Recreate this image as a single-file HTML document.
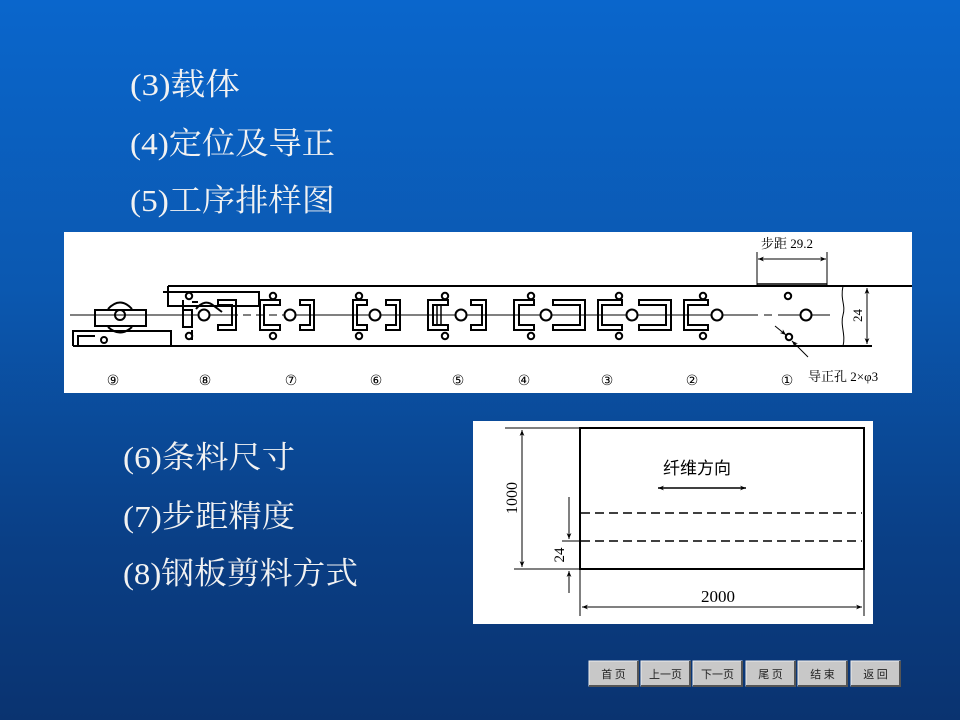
<!DOCTYPE html>
<html><head><meta charset="utf-8"><style>
html,body{margin:0;padding:0;}
body{width:960px;height:720px;overflow:hidden;background:linear-gradient(180deg,#0a66cc 0%,#0b58b0 40%,#0a3f86 75%,#0a3370 100%);}
svg{position:absolute;left:0;top:0}
</style></head><body>
<svg width="960" height="720" viewBox="0 0 960 720" xmlns="http://www.w3.org/2000/svg">
<defs>
<marker id="ar" viewBox="0 0 10 10" refX="10" refY="5" markerWidth="9" markerHeight="6" orient="auto-start-reverse" markerUnits="userSpaceOnUse"><path d="M0,1 L10,5 L0,9 L3,5 Z" fill="#000"/></marker>
</defs>
<g font-family="Liberation Serif, Noto Serif CJK SC, Noto Sans CJK SC, serif" fill="#f2f2f2" font-size="31">
<text x="130" y="95" textLength="110" lengthAdjust="spacingAndGlyphs">(3)载体</text>
<text x="130" y="154" textLength="205" lengthAdjust="spacingAndGlyphs">(4)定位及导正</text>
<text x="130" y="211" textLength="205" lengthAdjust="spacingAndGlyphs">(5)工序排样图</text>
<text x="123" y="468" textLength="172" lengthAdjust="spacingAndGlyphs">(6)条料尺寸</text>
<text x="123" y="527" textLength="172" lengthAdjust="spacingAndGlyphs">(7)步距精度</text>
<text x="123" y="584" textLength="235" lengthAdjust="spacingAndGlyphs">(8)钢板剪料方式</text>
</g>
<!-- strip panel -->
<rect x="64" y="232" width="848" height="161" fill="#fff"/>
<g stroke="#000" stroke-width="2" fill="none">
<line x1="168" y1="286" x2="912" y2="286"/>
<line x1="757" y1="284" x2="827" y2="284" stroke-width="1.5"/>
<line x1="73" y1="346" x2="872" y2="346"/>
<line x1="70" y1="315" x2="230" y2="315" stroke-width="1"/>
<line x1="230" y1="315" x2="290" y2="315" stroke-width="1" stroke-dasharray="8,5"/>
<line x1="290" y1="315" x2="750" y2="315" stroke-width="1"/>
<line x1="750" y1="315" x2="780" y2="315" stroke-width="1" stroke-dasharray="8,6"/>
<line x1="780" y1="315" x2="830" y2="315" stroke-width="1"/>
<!-- left holders -->
<path d="M163,292 H259 V306 H168 V292" />
<path d="M168,286 V292"/>
<rect x="95" y="310" width="51" height="16"/>
<path d="M73,346 V331 H171 V346 M78,346 V336 H95"/>
<rect x="183" y="310" width="9" height="17"/>
<path d="M192,302 H198 M192,330 V340 M183,310 V300"/>
<path d="M108,309 Q120,296 132,309 M108,327 Q120,338 132,327" stroke-width="2"/>
<path d="M196,309 Q205,298 214,306 L222,312"/>
<circle cx="120" cy="315" r="5"/>
<circle cx="104" cy="340" r="3"/>
<!-- break line right -->
<path d="M843,286 C840,300 846,305 843,315 C840,325 846,335 843,346" stroke-width="1"/>
<line x1="843" y1="286" x2="872" y2="286" stroke-width="1"/>
<line x1="843" y1="346" x2="872" y2="346" stroke-width="1"/>
<line x1="867" y1="288" x2="867" y2="344" stroke-width="1" marker-start="url(#ar)" marker-end="url(#ar)"/>
<!-- pitch dim -->
<line x1="757" y1="252" x2="757" y2="286" stroke-width="1"/>
<line x1="827" y1="252" x2="827" y2="286" stroke-width="1"/>
<line x1="758" y1="259" x2="826" y2="259" stroke-width="1" marker-start="url(#ar)" marker-end="url(#ar)"/>
<!-- pilot leader -->
<line x1="775" y1="326" x2="786" y2="335" stroke-width="1" marker-end="url(#ar)"/>
<line x1="808" y1="357" x2="792" y2="341" stroke-width="1" marker-end="url(#ar)"/>
</g>
<g stroke="#000" stroke-width="2" fill="#fff" id="parts">
<!-- center circles -->
<circle cx="204" cy="315" r="5.5"/><circle cx="290" cy="315" r="5.5"/><circle cx="375" cy="315" r="5.5"/><circle cx="461" cy="315" r="5.5"/><circle cx="546" cy="315" r="5.5"/><circle cx="632" cy="315" r="5.5"/><circle cx="717" cy="315" r="5.5"/><circle cx="806" cy="315" r="5.5"/>
<!-- pilots -->
<g fill="#fff">
<circle cx="189" cy="296" r="3.2"/><circle cx="189" cy="336" r="3.2"/>
<circle cx="273" cy="296" r="3.2"/><circle cx="273" cy="336" r="3.2"/>
<circle cx="359" cy="296" r="3.2"/><circle cx="359" cy="336" r="3.2"/>
<circle cx="445" cy="296" r="3.2"/><circle cx="445" cy="336" r="3.2"/>
<circle cx="531" cy="296" r="3.2"/><circle cx="531" cy="336" r="3.2"/>
<circle cx="619" cy="296" r="3.2"/><circle cx="619" cy="336" r="3.2"/>
<circle cx="703" cy="296" r="3.2"/><circle cx="703" cy="336" r="3.2"/>
<circle cx="788" cy="296" r="3.2"/><circle cx="789" cy="337" r="3.2"/>
</g>
</g>
<g stroke="#000" stroke-width="2" fill="none">
<!-- C opening left (right of circles) -->
<path d="M218,300 H236 V330 H218 V325 H232 V305 H218 Z"/>
<path d="M300,300 H314 V330 H300 V325 H310 V305 H300 Z"/>
<path d="M386,300 H400 V330 H386 V325 H396 V305 H386 Z"/>
<path d="M471,300 H486 V330 H471 V325 H482 V305 H471 Z"/>
<path d="M553,300 H585 V330 H553 V325 H580 V305 H553 Z"/>
<path d="M639,300 H671 V330 H639 V325 H666 V305 H639 Z"/>
<!-- C opening right (left of circles) -->
<path d="M280,300 H260 V330 H280 V325 H264 V305 H280 Z"/>
<path d="M367,300 H353 V330 H367 V325 H357 V305 H367 Z"/>
<path d="M448,300 H428 V330 H448 V325 H433 V305 H448 Z"/>
<line x1="437" y1="305" x2="437" y2="325" stroke-width="1.5"/><line x1="441" y1="305" x2="441" y2="325" stroke-width="1.5"/>
<path d="M534,300 H514 V330 H534 V325 H519 V305 H534 Z"/>
<path d="M622,300 H598 V330 H622 V325 H602 V305 H622 Z"/>
<path d="M708,300 H684 V330 H708 V325 H688 V305 H708 Z"/>
</g>
<g font-family="Liberation Serif, DejaVu Sans, serif" font-size="14" fill="#000" text-anchor="middle">
<text x="113" y="385">⑨</text><text x="205" y="385">⑧</text><text x="291" y="385">⑦</text><text x="376" y="385">⑥</text><text x="458" y="385">⑤</text><text x="524" y="385">④</text><text x="607" y="385">③</text><text x="692" y="385">②</text><text x="787" y="385">①</text>
</g>
<g font-family="Liberation Serif, Noto Serif CJK SC, serif" font-size="13" fill="#000">
<text x="761" y="248">步距 29.2</text>
<text x="808" y="381">导正孔 2×φ3</text>
<text x="0" y="0" transform="translate(862,322) rotate(-90)">24</text>
</g>
<!-- sheet panel -->
<rect x="473" y="421" width="400" height="203" fill="#fff"/>
<g stroke="#000" fill="none">
<rect x="580" y="428" width="284" height="141" stroke-width="2"/>
<line x1="581" y1="513" x2="862" y2="513" stroke-width="1.5" stroke-dasharray="9,5"/>
<line x1="581" y1="541" x2="862" y2="541" stroke-width="1.5" stroke-dasharray="9,5"/>
<line x1="505" y1="428" x2="580" y2="428" stroke-width="1"/>
<line x1="514" y1="569" x2="580" y2="569" stroke-width="1"/>
<line x1="562" y1="541" x2="580" y2="541" stroke-width="1"/>
<line x1="522" y1="430" x2="522" y2="567" stroke-width="1" marker-start="url(#ar)" marker-end="url(#ar)"/>
<line x1="569" y1="497" x2="569" y2="539" stroke-width="1" marker-end="url(#ar)"/>
<line x1="569" y1="593" x2="569" y2="571" stroke-width="1" marker-end="url(#ar)"/>
<line x1="580" y1="569" x2="580" y2="616" stroke-width="1"/>
<line x1="864" y1="569" x2="864" y2="616" stroke-width="1"/>
<line x1="582" y1="607" x2="862" y2="607" stroke-width="1" marker-start="url(#ar)" marker-end="url(#ar)"/>
<line x1="658" y1="488" x2="746" y2="488" stroke-width="1.5" marker-start="url(#ar)" marker-end="url(#ar)"/>
</g>
<g font-family="Liberation Serif, Noto Serif CJK SC, serif" fill="#000">
<text x="663" y="474" font-size="17" font-family="Noto Sans CJK SC, sans-serif">纤维方向</text>
<text x="718" y="602" font-size="17" text-anchor="middle">2000</text>
<text x="0" y="0" font-size="16" text-anchor="middle" transform="translate(517,498) rotate(-90)">1000</text>
<text x="0" y="0" font-size="15" text-anchor="middle" transform="translate(564,555) rotate(-90)">24</text>
</g>
<!-- buttons -->
<g font-family="Noto Sans CJK SC, sans-serif" font-size="11" fill="#222" text-anchor="middle">
<g><rect x="589" y="661" width="49" height="25" fill="#c8c8c8" stroke="#eee"/><path d="M589,686 H638 V661" stroke="#555" fill="none" stroke-width="2"/><text x="613.5" y="678">首 页</text></g>
<g><rect x="641" y="661" width="49" height="25" fill="#c8c8c8" stroke="#eee"/><path d="M641,686 H690 V661" stroke="#555" fill="none" stroke-width="2"/><text x="665.5" y="678">上一页</text></g>
<g><rect x="693" y="661" width="49" height="25" fill="#c8c8c8" stroke="#eee"/><path d="M693,686 H742 V661" stroke="#555" fill="none" stroke-width="2"/><text x="717.5" y="678">下一页</text></g>
<g><rect x="746" y="661" width="49" height="25" fill="#c8c8c8" stroke="#eee"/><path d="M746,686 H795 V661" stroke="#555" fill="none" stroke-width="2"/><text x="770.5" y="678">尾 页</text></g>
<g><rect x="798" y="661" width="49" height="25" fill="#c8c8c8" stroke="#eee"/><path d="M798,686 H847 V661" stroke="#555" fill="none" stroke-width="2"/><text x="822.5" y="678">结 束</text></g>
<g><rect x="851" y="661" width="49" height="25" fill="#c8c8c8" stroke="#eee"/><path d="M851,686 H900 V661" stroke="#555" fill="none" stroke-width="2"/><text x="875.5" y="678">返 回</text></g>
</g>
</svg>
</body></html>
